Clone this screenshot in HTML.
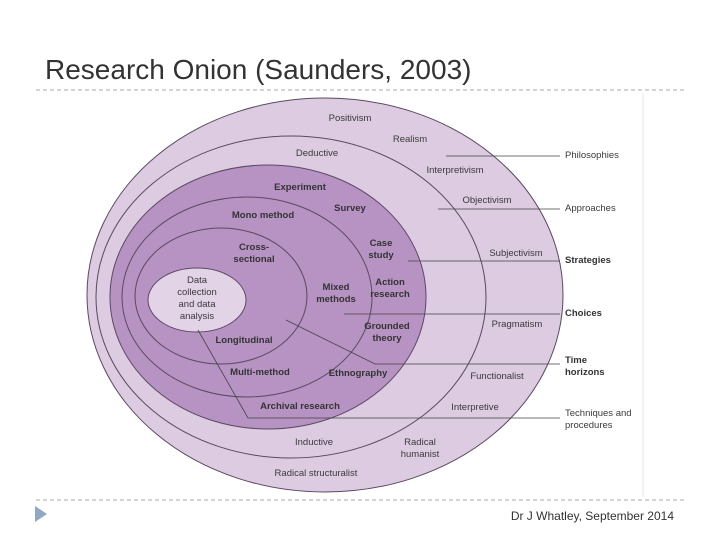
<!DOCTYPE html>
<html><head><style>
body{margin:0;width:720px;height:540px;background:#fff;overflow:hidden}
svg{display:block}
text{font-family:"Liberation Sans",sans-serif;font-size:9.5px;fill:#3a3a3a}
.b{font-weight:bold;fill:#333}
</style></head><body>
<svg width="720" height="540" xmlns="http://www.w3.org/2000/svg">
<text x="45" y="79" style="font-size:28px;fill:#333">Research Onion (Saunders, 2003)</text>
<line x1="36" y1="90" x2="686" y2="90" stroke="#aaa" stroke-dasharray="4,3"/>
<line x1="36" y1="500" x2="686" y2="500" stroke="#aaa" stroke-dasharray="4,3"/>
<line x1="643" y1="93" x2="643" y2="497" stroke="#e4e4e4"/>
<polygon points="35,506 47,514 35,522" fill="#8fa8c4"/>
<text x="674" y="520" text-anchor="end" style="font-size:12px;fill:#333">Dr J Whatley,  September 2014</text>
<g stroke="#5a4a60" stroke-width="1">
<ellipse cx="325" cy="295" rx="238" ry="197" fill="#dccbe1"/>
<ellipse cx="291" cy="297" rx="195" ry="161" fill="#dccbe1"/>
<ellipse cx="268" cy="297" rx="158" ry="132" fill="#b793c3"/>
<ellipse cx="247" cy="297" rx="125" ry="100" fill="none"/>
<ellipse cx="221" cy="296" rx="86" ry="68" fill="none"/>
<ellipse cx="197" cy="300" rx="49" ry="32" fill="#e2d4e6"/>
</g>
<g stroke="#444" stroke-width="0.8" fill="none">
<line x1="446" y1="156" x2="560" y2="156"/>
<line x1="438" y1="209" x2="560" y2="209"/>
<line x1="408" y1="261" x2="560" y2="261"/>
<line x1="344" y1="314" x2="560" y2="314"/>
<polyline points="286,320 375,364 560,364"/>
<polyline points="198,330 248,418 560,418"/>
</g>
<text x="565" y="158">Philosophies</text>
<text x="565" y="211">Approaches</text>
<text class="b" x="565" y="263">Strategies</text>
<text class="b" x="565" y="316">Choices</text>
<text class="b" x="565" y="363">Time</text>
<text class="b" x="565" y="375">horizons</text>
<text x="565" y="416">Techniques and</text>
<text x="565" y="428">procedures</text>
<g text-anchor="middle">
<text x="350" y="121">Positivism</text>
<text x="410" y="142">Realism</text>
<text x="317" y="156">Deductive</text>
<text x="455" y="173">Interpretivism</text>
<text x="487" y="203">Objectivism</text>
<text x="516" y="256">Subjectivism</text>
<text x="517" y="327">Pragmatism</text>
<text x="497" y="379">Functionalist</text>
<text x="475" y="410">Interpretive</text>
<text x="314" y="445">Inductive</text>
<text x="420" y="445">Radical</text>
<text x="420" y="457">humanist</text>
<text x="316" y="476">Radical structuralist</text>
<text class="b" x="300" y="190">Experiment</text>
<text class="b" x="350" y="211">Survey</text>
<text class="b" x="263" y="218">Mono method</text>
<text class="b" x="381" y="246">Case</text>
<text class="b" x="381" y="258">study</text>
<text class="b" x="254" y="250">Cross-</text>
<text class="b" x="254" y="262">sectional</text>
<text class="b" x="336" y="290">Mixed</text>
<text class="b" x="336" y="302">methods</text>
<text class="b" x="390" y="285">Action</text>
<text class="b" x="390" y="297">research</text>
<text class="b" x="387" y="329">Grounded</text>
<text class="b" x="387" y="341">theory</text>
<text class="b" x="244" y="343">Longitudinal</text>
<text class="b" x="260" y="375">Multi-method</text>
<text class="b" x="358" y="376">Ethnography</text>
<text class="b" x="300" y="409">Archival research</text>
<text x="197" y="283">Data</text>
<text x="197" y="295">collection</text>
<text x="197" y="307">and data</text>
<text x="197" y="319">analysis</text>
</g>
</svg>
</body></html>
